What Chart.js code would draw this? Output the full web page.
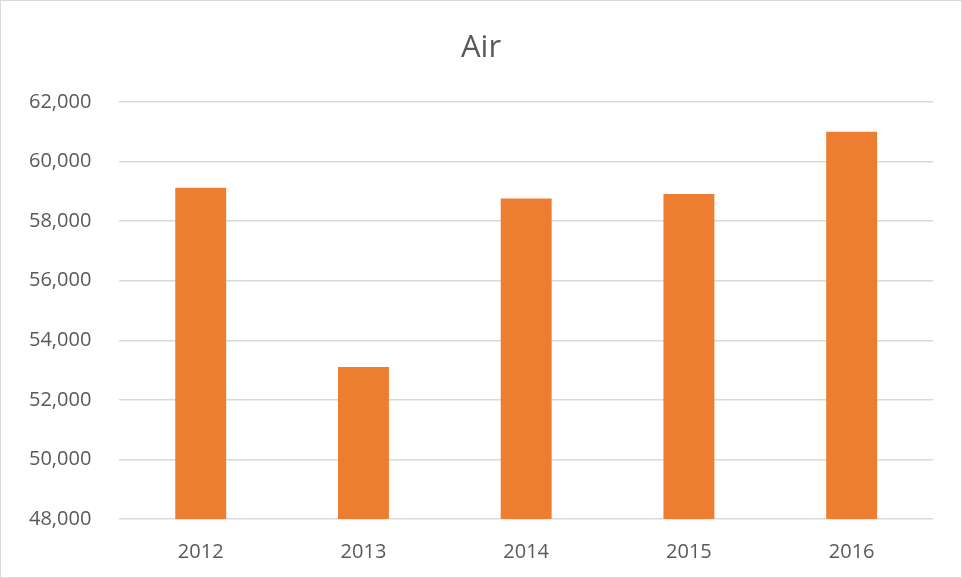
<!DOCTYPE html>
<html>
<head>
<meta charset="utf-8">
<script src="https://cdn.jsdelivr.net/npm/chart.js@4"></script>
<style>
  html, body { margin: 0; padding: 0; background: #fff; }
  #wrap { width: 962px; height: 578px; box-sizing: border-box; border: 1px solid #d9d9d9; }
</style>
</head>
<body>
<div id="wrap"><canvas id="myChart" width="960" height="576"></canvas></div>
<script>
const years = ['2012', '2013', '2014', '2015', '2016'];
const airValues = [59120, 53100, 58760, 58910, 61000];
const yMin = 48000;
const yMax = 62000;
const yStep = 2000;
const chartTitle = 'Air';

// title centred on the whole canvas, not on the padded layout box
const centredTitle = {
  id: 'centredTitle',
  afterDraw(chart) {
    const c = chart.ctx;
    c.save();
    c.font = 'normal 31px "Open Sans"';
    c.fillStyle = '#595959';
    c.textAlign = 'center';
    c.textBaseline = 'middle';
    c.fillText(chartTitle, chart.width / 2, 47);
    c.restore();
  }
};

window.onload = function () {
  const config = {
    type: 'bar',
    data: {
      labels: years,
      datasets: [
        {
          label: chartTitle,
          backgroundColor: '#ed7d31',
          data: airValues,
          barPercentage: 1,
          categoryPercentage: 0.313
        }
      ]
    },
    options: {
      responsive: false,
      animation: false,
      layout: {
        padding: { top: 101, left: 0, right: 28, bottom: 0 }
      },
      plugins: {
        legend: { display: false },
        tooltip: { enabled: false },
        title: { display: false }
      },
      scales: {
        x: {
          grid: { display: false },
          border: { display: false },
          ticks: {
            color: '#595959',
            padding: 13,
            font: { family: 'Open Sans', size: 20 }
          }
        },
        y: {
          min: yMin,
          max: yMax,
          border: { display: false },
          grid: { color: '#d9d9d9', lineWidth: 1.5, drawTicks: false },
          ticks: {
            stepSize: yStep,
            color: '#595959',
            padding: 28,
            font: { family: 'Open Sans', size: 20 },
            callback: function (v) { return v.toLocaleString('en-US'); }
          }
        }
      }
    },
    plugins: [centredTitle]
  };
  const ctx = document.getElementById('myChart');
  const myChart = new Chart(ctx, config);
};
</script>
</body>
</html>
